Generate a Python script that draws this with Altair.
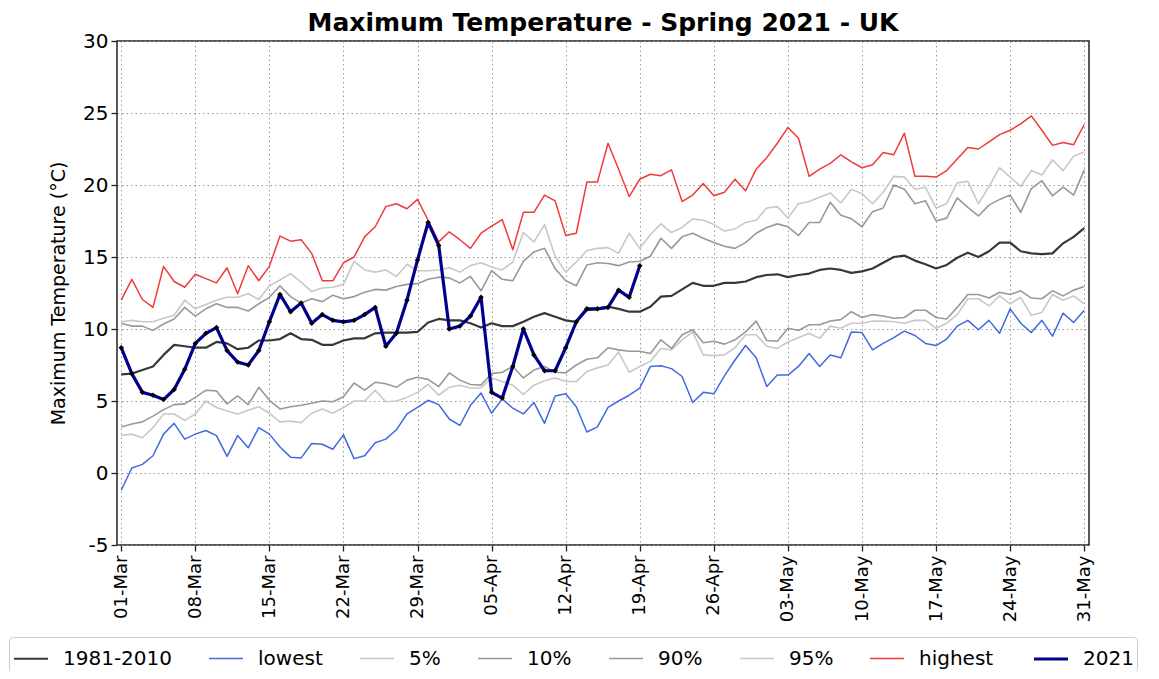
import json
import altair as alt
import pandas as pd

# ---------------- data ----------------
tick_labels = ["01-Mar", "08-Mar", "15-Mar", "22-Mar", "29-Mar", "05-Apr", "12-Apr",
               "19-Apr", "26-Apr", "03-May", "10-May", "17-May", "24-May", "31-May"]

series_names = ["1981-2010", "lowest", "5%", "10%", "90%", "95%", "highest", "2021"]
series_colors = ["#383838", "#4169e1", "#c8c8c8", "#999999", "#999999", "#c8c8c8", "#f03a3a", "#00008b"]
series_widths = [2.2, 1.5, 1.6, 1.6, 1.6, 1.6, 1.5, 3.2]

mean_1981_2010 = [6.85, 6.9, 7.15, 7.4, 8.2, 8.9, 8.8, 8.7, 8.7, 9.1,
                  9.0, 8.6, 8.7, 9.2, 9.2, 9.3, 9.7, 9.3, 9.25, 8.9,
                  8.9, 9.2, 9.35, 9.35, 9.7, 9.75, 9.75, 9.75, 9.8, 10.45,
                  10.7, 10.6, 10.6, 10.4, 10.1, 10.4, 10.2, 10.2, 10.5, 10.85,
                  11.1, 10.85, 10.6, 10.5, 11.3, 11.4, 11.55, 11.4, 11.2, 11.2,
                  11.55, 12.25, 12.3, 12.75, 13.2, 13.0, 13.0, 13.2, 13.2, 13.3,
                  13.6, 13.75, 13.8, 13.6, 13.75, 13.85, 14.1, 14.2, 14.1, 13.9,
                  14.0, 14.2, 14.6, 15.0, 15.1, 14.75, 14.5, 14.2, 14.45, 14.95,
                  15.3, 15.0, 15.4, 16.0, 16.0, 15.4, 15.25, 15.2, 15.25, 15.95,
                  16.4, 17.0]

lowest = [-1.2, 0.35, 0.6, 1.2, 2.7, 3.45, 2.35, 2.7, 2.95, 2.6,
          1.15, 2.6, 1.75, 3.15, 2.7, 1.8, 1.1, 1.05, 2.05, 2.0,
          1.65, 2.65, 1.0, 1.2, 2.1, 2.35, 3.0, 4.1, 4.55, 5.05,
          4.75, 3.75, 3.3, 4.7, 5.55, 4.15, 5.15, 4.5, 4.1, 4.9,
          3.45, 5.35, 5.5, 4.6, 2.85, 3.2, 4.55, 5.0, 5.4, 5.9,
          7.4, 7.45, 7.25, 6.7, 4.9, 5.6, 5.5, 6.75, 7.85, 8.85,
          8.0, 6.0, 6.8, 6.8, 7.4, 8.3, 7.4, 8.2, 8.0, 9.8,
          9.75, 8.55, 9.0, 9.4, 9.85, 9.55, 9.0, 8.85, 9.3, 10.2,
          10.6, 9.95, 10.6, 9.7, 11.4, 10.4, 9.75, 10.6, 9.5, 11.1,
          10.45, 11.3]

pct5 = [2.6, 2.7, 2.45, 3.15, 4.1, 4.1, 3.65, 4.1, 5.0, 4.55,
        4.3, 4.1, 4.35, 4.6, 4.15, 3.55, 3.6, 3.5, 4.15, 4.45,
        4.15, 4.55, 5.0, 5.0, 5.75, 4.95, 5.0, 5.25, 5.6, 6.15,
        5.4, 5.95, 6.1, 5.9, 5.9, 6.6, 6.35, 6.1, 5.45, 6.1,
        6.4, 6.6, 6.35, 6.35, 7.05, 7.3, 7.5, 8.4, 7.0, 7.4,
        7.75, 8.65, 8.55, 9.25, 9.8, 8.2, 8.15, 8.2, 8.7, 9.6,
        9.6, 8.8, 8.65, 9.1, 9.4, 9.7, 9.35, 10.2, 10.05, 10.4,
        10.4, 10.55, 10.55, 10.5, 10.4, 10.6, 10.6, 10.05, 10.4, 11.0,
        12.1, 12.1, 11.6, 12.3, 11.75, 12.2, 10.95, 11.15, 12.4, 12.0,
        12.3, 11.75]

pct10 = [3.2, 3.4, 3.55, 3.95, 4.4, 4.75, 4.8, 5.25, 5.75, 5.7,
         4.8, 5.35, 4.75, 5.95, 5.05, 4.45, 4.6, 4.7, 4.85, 5.0,
         4.95, 5.3, 6.25, 5.75, 6.3, 6.2, 5.95, 6.45, 6.65, 6.5,
         6.0, 6.95, 6.45, 6.15, 6.1, 6.9, 7.0, 7.4, 6.6, 7.15,
         7.4, 7.0, 6.95, 7.5, 7.9, 8.0, 8.7, 8.55, 8.45, 8.45,
         8.3, 9.25, 8.65, 9.6, 9.95, 9.05, 9.15, 8.95, 9.25, 9.8,
         10.55, 9.2, 9.15, 10.05, 9.9, 10.3, 10.3, 10.55, 10.65, 11.2,
         10.8, 11.0, 10.9, 10.75, 10.8, 11.3, 11.3, 10.8, 10.7, 11.5,
         12.4, 12.4, 12.15, 12.55, 12.4, 12.65, 12.15, 12.1, 12.65, 12.3,
         12.7, 12.95]

pct90 = [10.4, 10.2, 10.2, 9.9, 10.35, 10.7, 11.5, 10.9, 11.4, 11.75,
         11.5, 11.5, 11.25, 11.75, 12.2, 13.0, 12.25, 11.8, 12.1, 11.9,
         12.35, 12.1, 12.25, 12.55, 12.75, 12.7, 12.95, 13.1, 13.15, 13.45,
         13.6, 13.55, 13.2, 13.65, 12.65, 14.05, 13.45, 13.35, 14.7, 15.35,
         15.6, 14.2, 13.35, 13.0, 14.45, 14.6, 14.55, 14.4, 14.65, 14.7,
         15.05, 16.3, 15.6, 16.4, 16.65, 16.3, 16.0, 15.75, 15.6, 16.0,
         16.65, 17.05, 17.3, 17.1, 16.5, 17.4, 17.4, 18.8, 17.9, 17.65,
         17.1, 18.15, 18.4, 20.0, 19.7, 18.7, 18.9, 17.5, 17.7, 19.1,
         18.45, 17.85, 18.6, 19.0, 19.3, 18.1, 19.75, 20.3, 19.25, 19.85,
         19.3, 21.05]

pct95 = [10.5, 10.6, 10.5, 10.5, 10.75, 10.95, 12.0, 11.4, 11.7, 12.0,
         12.2, 12.2, 12.45, 12.05, 13.0, 13.4, 13.85, 13.25, 12.6, 12.85,
         12.9, 13.1, 14.7, 14.1, 13.95, 14.1, 13.65, 14.5, 14.05, 14.05,
         14.1, 14.25, 13.95, 14.4, 14.6, 14.3, 14.1, 14.65, 16.7, 16.05,
         17.25, 15.05, 13.95, 14.65, 15.45, 15.6, 15.65, 15.25, 16.65, 15.6,
         16.55, 17.3, 16.7, 17.05, 17.65, 17.55, 17.25, 16.8, 16.95, 17.4,
         17.55, 18.4, 18.5, 17.7, 18.7, 18.85, 19.15, 19.45, 18.75, 19.7,
         19.4, 18.7, 19.5, 20.6, 20.55, 19.7, 19.85, 18.4, 18.7, 20.15,
         20.25, 18.7, 19.9, 21.2, 20.55, 19.9, 21.0, 20.7, 21.75, 21.0,
         22.0, 22.3]

highest = [12.0, 13.45, 12.05, 11.5, 14.35, 13.3, 12.9, 13.8, 13.5, 13.2,
           14.25, 12.45, 14.4, 13.35, 14.35, 16.45, 16.1, 16.2, 15.25, 13.35,
           13.35, 14.6, 15.0, 16.4, 17.1, 18.5, 18.7, 18.35, 19.0, 17.55,
           16.05, 16.75, 16.2, 15.6, 16.65, 17.15, 17.6, 15.5, 18.1, 18.1,
           19.3, 18.9, 16.5, 16.65, 20.2, 20.2, 22.9, 21.1, 19.2, 20.4,
           20.75, 20.65, 21.05, 18.85, 19.3, 20.1, 19.25, 19.5, 20.4, 19.6,
           21.1, 21.9, 22.9, 24.0, 23.25, 20.6, 21.1, 21.5, 22.1, 21.6,
           21.2, 21.4, 22.25, 22.1, 23.6, 20.6, 20.6, 20.55, 21.0, 21.8,
           22.6, 22.5, 23.0, 23.5, 23.8, 24.25, 24.8, 23.8, 22.75, 22.95,
           22.8, 24.2]

y2021 = [8.7, 6.9, 5.6, 5.4, 5.1, 5.8, 7.2, 9.0, 9.7, 10.1,
         8.5, 7.7, 7.5, 8.5, 10.5, 12.4, 11.2, 11.8, 10.4, 11.0,
         10.6, 10.5, 10.6, 11.0, 11.5, 8.8, 9.7, 12.0, 14.8, 17.4,
         15.8, 10.0, 10.2, 10.9, 12.2, 5.6, 5.2, 7.4, 10.0, 8.2,
         7.1, 7.1, 8.7, 10.5, 11.4, 11.4, 11.5, 12.7, 12.2, 14.4]

# ---------------- tables ----------------
clim = [("5%", pct5), ("95%", pct95), ("10%", pct10), ("90%", pct90),
        ("lowest", lowest), ("highest", highest), ("1981-2010", mean_1981_2010)]
rows = []
for name, vals in clim:
    for i, v in enumerate(vals):
        rows.append({"day": i, "temp": v, "series": name})
df_clim = pd.DataFrame(rows)
df_2021 = pd.DataFrame({"day": list(range(len(y2021))), "temp": y2021, "series": "2021"})

label_expr = json.dumps(tick_labels) + "[round(datum.value / 7)]"

x_enc = alt.X(
    "day:Q",
    scale=alt.Scale(domain=[-0.4, 91.45], nice=False, zero=False),
    axis=alt.Axis(values=list(range(0, 92, 7)), labelExpr=label_expr, labelAngle=270,
                  labelAlign="right", labelBaseline="middle", labelPadding=4, title=None,
                  labelFontSize=18),
)
y_enc = alt.Y(
    "temp:Q",
    scale=alt.Scale(domain=[-5, 30], nice=False, zero=False),
    axis=alt.Axis(values=list(range(-5, 31, 5)), labelExpr="'' + datum.value",
                  title="Maximum Temperature (°C)", labelFontSize=20,
                  titleFontSize=19, titlePadding=14, labelPadding=3),
)
color_enc = alt.Color("series:N", scale=alt.Scale(domain=series_names, range=series_colors), title=None)
width_enc = alt.StrokeWidth("series:N",
                            scale=alt.Scale(type="ordinal", domain=series_names, range=series_widths),
                            title=None)

clim_lines = alt.Chart(df_clim).mark_line(strokeJoin="round").encode(
    x=x_enc, y=y_enc, color=color_enc, strokeWidth=width_enc, detail="series:N"
)
line_2021 = alt.Chart(df_2021).mark_line(strokeJoin="round").encode(
    x=x_enc, y=y_enc, color=color_enc, strokeWidth=width_enc
)
pts_2021 = alt.Chart(df_2021).mark_point(shape="diamond", filled=True, color="black",
                                          size=30, opacity=1).encode(x=x_enc, y=y_enc)

chart = alt.layer(clim_lines, line_2021, pts_2021).properties(
    width=972, height=504,
    title=alt.TitleParams("Maximum Temperature - Spring 2021 - UK", frame="group"),
    autosize=alt.AutoSizeParams(type="none"),
    padding={"left": 109, "top": 33, "right": 62, "bottom": 126},
).configure_view(
    stroke="#222222", strokeWidth=1.5
).configure_axis(
    labelFont="DejaVu Sans", labelColor="black",
    tickColor="#222222", tickSize=6, tickWidth=1.3, domain=False,
    gridColor="#9a9a9a", gridDash=[1.5, 3], gridWidth=1,
    titleFont="DejaVu Sans", titleFontWeight="normal", titleColor="black",
).configure_title(
    font="DejaVu Sans", fontSize=25, fontWeight="bold", color="black", anchor="middle", offset=-5,
).configure_legend(
    orient="none", legendX=-108, legendY=596, direction="horizontal", columns=8,
    columnPadding=33, symbolType="stroke", symbolSize=1156, labelFontSize=20,
    labelFont="DejaVu Sans", labelColor="black", labelOffset=13, padding=3,
    fillColor="white", strokeColor="#cccccc", cornerRadius=4,
)

chart.save("out.html", embed_options={"renderer": "svg", "actions": False})
